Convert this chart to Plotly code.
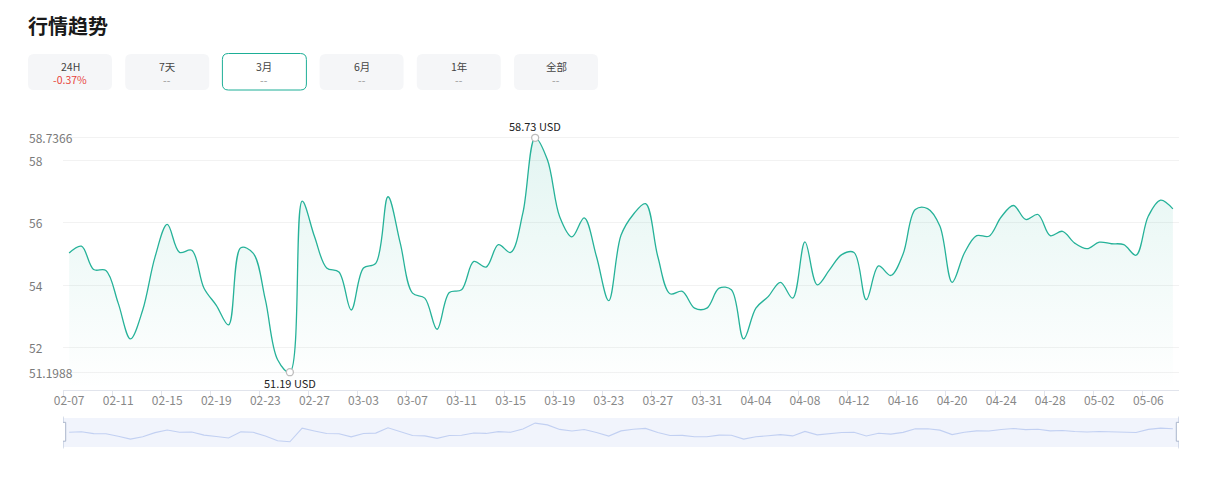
import math
import numpy as np
import pandas as pd
import plotly.graph_objects as go

# ---- data ----
dates = pd.date_range("2025-02-07", "2025-05-08").strftime("%m-%d").tolist()
prices = [
    55.03, 55.25, 54.50, 54.47, 53.42, 52.27, 53.20, 54.90, 55.95, 55.05,
    55.12, 53.90, 53.35, 52.72, 55.20, 55.03, 53.53, 51.60, 51.1988, 56.70,
    55.57, 54.55, 54.42, 53.20, 54.55, 54.70, 56.84, 55.35, 53.74, 53.58,
    52.58, 53.76, 53.85, 54.76, 54.58, 55.30, 55.05, 56.32, 58.7366, 58.03,
    56.20, 55.55, 56.16, 54.92, 53.50, 55.60, 56.27, 56.62, 54.92, 53.72,
    53.80, 53.26, 53.26, 53.90, 53.85, 52.27, 53.26, 53.63, 54.09, 53.58,
    55.39, 54.01, 54.49, 54.98, 55.05, 53.53, 54.62, 54.31, 55.00, 56.43,
    56.46, 55.90, 54.09, 55.03, 55.59, 55.57, 56.19, 56.56, 56.11, 56.27,
    55.59, 55.73, 55.35, 55.17, 55.38, 55.33, 55.30, 54.96, 56.22, 56.73,
    56.45,
]
y_ticks = [51.1988, 52, 54, 56, 58, 58.7366]
periods = ["24H", "7天", "3月", "6月", "1年", "全部"]
changes = ["-0.37%", "--", "--", "--", "--", "--"]
selected = 2

x = list(range(len(dates)))
tick_idx = x[::4]
tick_text = [dates[i] for i in tick_idx]

# ---- page geometry (pixels) ----
W, H = 1208, 484
L, R, T, B = 63, 29, 130, 37
PW, PH = W - L - R, H - T - B


def px(xp):
    return (xp - L) / PW


def py(yp):
    return (H - B - yp) / PH


TEAL = "#26b299"
i_max = int(np.argmax(prices))
i_min = int(np.argmin(prices))

fig = go.Figure()

fig.add_trace(go.Scatter(
    x=x, y=prices, mode="lines", line=dict(color=TEAL, width=1.3, shape="spline", smoothing=1.0),
    fill="tozeroy",
    fillgradient=dict(type="vertical", start=50.63, stop=58.7366,
                      colorscale=[[0, "rgba(38,178,153,0.0)"], [1, "rgba(38,178,153,0.13)"]]),
    hoverinfo="skip", showlegend=False,
))
fig.add_trace(go.Scatter(
    x=[i_max, i_min], y=[prices[i_max], prices[i_min]], mode="markers",
    marker=dict(size=7, color="white", line=dict(color="#bdbdbd", width=1.3)),
    hoverinfo="skip", showlegend=False, cliponaxis=False,
))
# data-zoom shadow
fig.add_trace(go.Scatter(
    x=x, y=prices, mode="lines", line=dict(color="#c2d0f2", width=1.1),
    xaxis="x2", yaxis="y2", hoverinfo="skip", showlegend=False,
))

fig.update_layout(
    width=W, height=H,
    margin=dict(l=L, r=R, t=T, b=B),
    paper_bgcolor="white", plot_bgcolor="white",
    font=dict(family="Noto Sans CJK SC, Noto Sans, sans-serif", size=12, color="#333"),
    xaxis=dict(
        domain=[0, 1], range=[-0.5, len(x) - 0.5], anchor="y",
        tickmode="array", tickvals=tick_idx, ticktext=tick_text, ticks="",
        tickfont=dict(color="#888", size=12),
        showgrid=False, zeroline=False,
        showline=True, linecolor="#e1e4ec", linewidth=1,
        minor=dict(tickmode="array", tickvals=[i - 0.5 for i in tick_idx],
                   ticks="outside", ticklen=5, tickcolor="#e1e4ec", showgrid=False),
    ),
    yaxis=dict(
        domain=[py(390), 1], range=[50.627, 58.987],
        tickmode="array", tickvals=y_ticks, showticklabels=False,
        showgrid=True, gridcolor="#f2f2f2", gridwidth=1, zeroline=False,
    ),
    xaxis2=dict(domain=[0, 1], range=[-0.5, len(x) - 0.5], anchor="y2", visible=False),
    yaxis2=dict(domain=[0, py(418)], range=[49.1, 60.8], visible=False),
)

shapes = [
    dict(type="rect", xref="x2 domain", yref="y2 domain", x0=0, x1=1, y0=0, y1=1,
         fillcolor="#f1f4fc", line=dict(width=0), layer="below"),
]
for hx in [-0.5, len(x) - 0.5]:
    shapes.append(dict(type="line", xref="x2", yref="y2 domain", x0=hx, x1=hx, y0=-0.05, y1=1.05,
                       line=dict(color="#b3bfd6", width=1)))
    shapes.append(dict(type="rect", xref="x2", yref="y2 domain", x0=hx - 0.22, x1=hx + 0.22,
                       y0=0.2, y1=0.85, fillcolor="white", line=dict(color="#aab6cc", width=1)))


def rounded(x0, y0, x1, y1, r):
    pts = [
        f"M{px(x0 + r)},{py(y0)}", f"L{px(x1 - r)},{py(y0)}", f"Q{px(x1)},{py(y0)} {px(x1)},{py(y0 + r)}",
        f"L{px(x1)},{py(y1 - r)}", f"Q{px(x1)},{py(y1)} {px(x1 - r)},{py(y1)}",
        f"L{px(x0 + r)},{py(y1)}", f"Q{px(x0)},{py(y1)} {px(x0)},{py(y1 - r)}",
        f"L{px(x0)},{py(y0 + r)}", f"Q{px(x0)},{py(y0)} {px(x0 + r)},{py(y0)}", "Z",
    ]
    return " ".join(pts)


annotations = [
    dict(text="<b>行情趋势</b>", xref="paper", yref="paper", x=px(26), y=py(25),
         xanchor="left", yanchor="middle", showarrow=False,
         font=dict(size=20, color="#1a1a1a")),
]

for k, (lab, chg) in enumerate(zip(periods, changes)):
    bx0 = 28 + k * 97.2
    bx1 = bx0 + 84
    if k == selected:
        shapes.append(dict(type="path", xref="paper", yref="paper", path=rounded(bx0, 53.5, bx1, 90, 6),
                           fillcolor="white", line=dict(color="#1dae96", width=1)))
    else:
        shapes.append(dict(type="path", xref="paper", yref="paper", path=rounded(bx0, 54, bx1, 90, 6),
                           fillcolor="#f5f6f8", line=dict(width=0)))
    cx = (bx0 + bx1) / 2
    annotations.append(dict(text=lab, xref="paper", yref="paper", x=px(cx), y=py(66.3),
                            xanchor="center", yanchor="middle", showarrow=False, borderpad=0,
                            font=dict(size=10.5, color="#444")))
    annotations.append(dict(text=chg, xref="paper", yref="paper", x=px(cx), y=py(79.3),
                            xanchor="center", yanchor="middle", showarrow=False, borderpad=0,
                            font=dict(size=10.5, color="#e8453c" if chg != "--" else "#999")))

# left-aligned y tick labels
for v in y_ticks:
    annotations.append(dict(text=f"{v:g}", xref="paper", yref="y", x=px(27), y=v,
                            xanchor="left", yanchor="middle", showarrow=False,
                            font=dict(size=12, color="#7a7a7a")))

# max / min labels
annotations.append(dict(text=f"{math.floor(prices[i_max] * 100) / 100:.2f} USD", x=i_max, y=prices[i_max],
                        xref="x", yref="y", yanchor="bottom", yshift=2, showarrow=False,
                        font=dict(size=11, color="#222")))
annotations.append(dict(text=f"{math.floor(prices[i_min] * 100) / 100:.2f} USD", x=i_min, y=prices[i_min],
                        xref="x", yref="y", yanchor="top", yshift=-1, showarrow=False,
                        font=dict(size=11, color="#222")))

fig.update_layout(shapes=shapes, annotations=annotations)

fig.write_html("out.html", config={"displayModeBar": False},
               post_script="document.body.style.margin='0';")
